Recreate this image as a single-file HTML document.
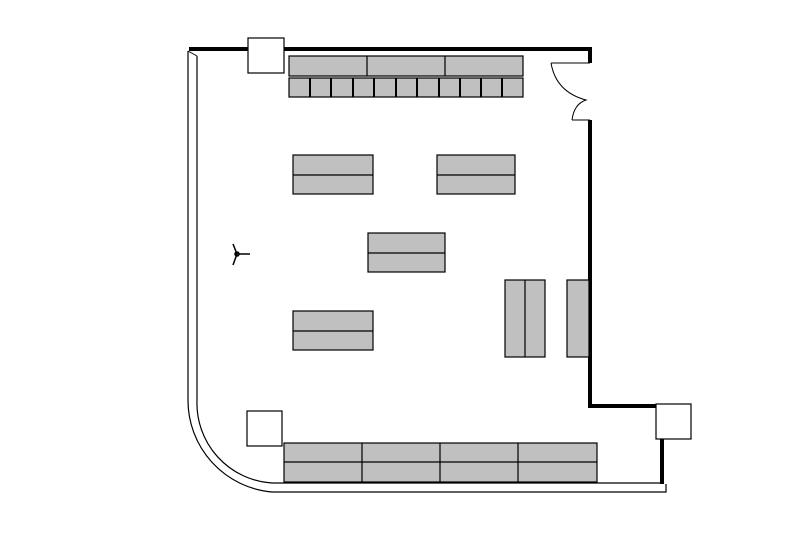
<!DOCTYPE html>
<html><head><style>html,body{margin:0;padding:0;background:#fff}svg{display:block}</style></head>
<body>
<svg width="800" height="533" viewBox="0 0 800 533" xmlns="http://www.w3.org/2000/svg">
<rect width="800" height="533" fill="#fff"/>
<g fill="none" stroke="#000">
<!-- top thick wall -->
<path d="M189 49 L590 49 L590 63" stroke-width="4"/>
<path d="M590 120 L590 406 L656 406" stroke-width="4"/>
<path d="M662 438 L662 484" stroke-width="4"/>
<!-- left double wall with arc -->
<path d="M188 51 L188 400 A92 92 0 0 0 272 492 L666 492 L666 484" stroke-width="1.2"/>
<path d="M197 56 L197 400 A80 80 0 0 0 272 483 L662 483" stroke-width="1.2"/>
<path d="M188 51 L197 56" stroke-width="1"/>
<!-- door -->
<path d="M551 63 L590 63 M572 120 L590 120" stroke-width="1"/>
<path d="M551 63 Q556 92 586 100 Q574 104 572 120" stroke-width="1"/>
</g>
<!-- columns -->
<g fill="#fff" stroke="#000" stroke-width="1.2">
<rect x="248" y="38" width="36" height="35"/>
<rect x="247" y="411" width="35" height="35"/>
<rect x="656" y="404" width="35" height="35"/>
</g>
<!-- tables -->
<g fill="#c0c0c0" stroke="#000" stroke-width="1.2">
<rect x="289" y="56" width="234" height="20"/>
<rect x="289" y="78" width="234" height="19"/>
<rect x="284" y="443" width="313" height="39"/>
<rect x="293" y="155" width="80" height="39"/>
<rect x="437" y="155" width="78" height="39"/>
<rect x="368" y="233" width="77" height="39"/>
<rect x="293" y="311" width="80" height="39"/>
<rect x="505" y="280" width="40" height="77"/>
<rect x="567" y="280" width="22" height="77"/>
</g>
<g stroke="#000" stroke-width="1.2">
<path d="M367 56V76M445 56V76"/>
<path d="M284 462H597M362 443V482M440 443V482M518 443V482"/>
<path d="M293 175H373M437 175H515M368 253H445M293 331H373M525 280V357"/>
</g>
<g stroke="#000" stroke-width="2">
<path d="M310 78V97M331 78V97M353 78V97M374 78V97M396 78V97M417 78V97M439 78V97M460 78V97M481 78V97M502 78V97"/>
</g>
<g stroke="#000" stroke-width="0.8" stroke-dasharray="2 2"><path d="M289 97H523"/></g>
<!-- figure -->
<g stroke="#000" stroke-width="1.5" fill="none">
<path d="M233 244 L237 254 L233 265 M235 254 L250 254"/>
<circle cx="237" cy="254" r="2"/>
</g>
</svg>
</body></html>
